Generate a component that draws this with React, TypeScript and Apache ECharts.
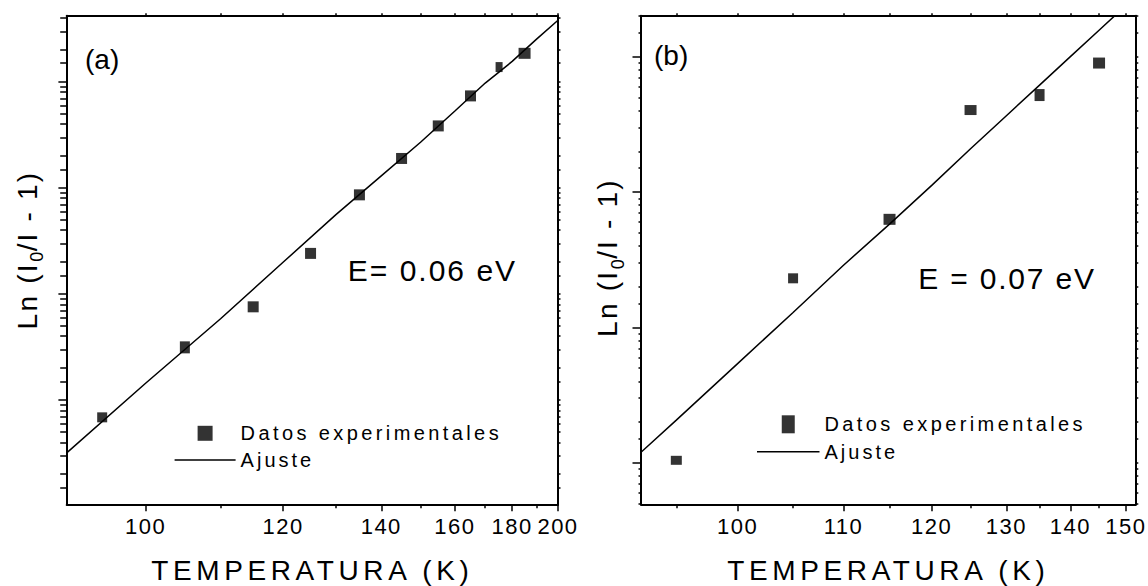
import React, { useEffect, useRef } from 'react';
import * as echarts from 'echarts';

// ---------- Panel (a) data ----------
const TEMP_A = [95, 105, 115, 125, 135, 145, 155, 165, 175, 185];
const VALUE_A = [0.00687, 0.0314, 0.0757, 0.2415, 0.861, 1.897, 3.846, 7.38, 13.8, 18.6];
const FIT_TEMP_A = [91.3, 100, 110, 120, 130, 140, 150, 160, 170, 180, 190, 200];
const FIT_VALUE_A = [0.00319, 0.01439, 0.0585, 0.1991, 0.56, 1.301, 2.7, 5.316, 9.75, 15.6, 25.19, 38.14];
const TICKS_A = [100, 120, 140, 160, 180, 200];
const MINOR_TICKS_A = [110, 130, 150, 170, 190];

// ---------- Panel (b) data ----------
const TEMP_B = [95, 105, 115, 125, 135, 145];
const VALUE_B = [0.01042, 0.2305, 0.6289, 4.037, 5.21, 8.98];
const FIT_TEMP_B = [92.3, 95, 100, 105, 110, 115, 120, 125, 130, 135, 140, 145, 150];
const FIT_VALUE_B = [0.01184, 0.02064, 0.054, 0.1289, 0.288, 0.58, 1.12, 2.089, 3.666, 6.171, 10.01, 15.7, 23.9];
const TICKS_B = [100, 110, 120, 130, 140, 150];
const MINOR_TICKS_B = [95, 105, 115, 125, 135, 145];

// axis ranges (temperature K, and y quantity on log scale)
const RANGE_T_A = [91.27, 200];
const RANGE_T_B = [92.34, 151.95];
const RANGE_Y_A = [0.00104, 42.1];
const RANGE_Y_B = [0.00493, 20.1];
const DECADES = [0.001, 0.01, 0.1, 1, 10];
const MINOR_FACTORS = [1.5, 2, 3, 4, 5, 6, 7, 8, 9];

const SERIES_DATA = 'Datos experimentales';
const SERIES_FIT = 'Ajuste';

// marker sizes (style)
const MARKERS_A = [[10, 10], [10, 12], [11, 11], [11, 11], [11, 11], [11, 11], [11, 11], [11, 11], [7, 10], [12, 11]];
const MARKERS_B = [[11, 9], [10, 10], [12, 11], [12, 10], [10, 12], [12, 11]];

const FONT = "'Liberation Sans', Arial, Helvetica, sans-serif";
const BLACK = '#000';

const YLABEL_SPACING = 2.2;
const SPACING: Record<string, number> = {
  'TEMPERATURA (K)': 4.6,
  'Datos experimentales': 3.4,
  'Ajuste': 3,
  'E= 0.06 eV': 2,
  'E = 0.07 eV': 1.8,
  'Ln (I': YLABEL_SPACING,
  '/I - 1)': YLABEL_SPACING,
};
const TICK_SPACING = 1.5;

const inv = (t: number) => 1000 / t;
const lg = (v: number) => Math.log10(v);

function logTicks(range: number[]) {
  const lo = lg(range[0]);
  const hi = lg(range[1]);
  const major: number[] = [];
  const minor: number[] = [];
  DECADES.forEach((d) => {
    const m = lg(d);
    if (m >= lo && m <= hi) major.push(m);
    MINOR_FACTORS.forEach((f) => {
      const v = lg(d * f);
      if (v >= lo && v <= hi) minor.push(v);
    });
  });
  return { major, minor };
}

const PANELS = [
  {
    grid: { left: 66.7, top: 15.7, width: 491.3, height: 488.6 },
    tRange: RANGE_T_A, yRange: RANGE_Y_A,
    ticks: TICKS_A, minorTicks: MINOR_TICKS_A,
    temp: TEMP_A, value: VALUE_A, fitT: FIT_TEMP_A, fitV: FIT_VALUE_A,
    markers: MARKERS_A,
    yMajorLen: 8.3, yMinorLen: 6.5, yNameGap: 20.7, yNameShift: 20,
    legend: { left: 174.6, top: 423.3, itemWidth: 61, itemHeight: 15, itemGap: 6.7, icon: 'path://M0,0H15V15H0Z' },
    tag: '(a)', tagPos: [85, 59],
    energy: 'E= 0.06 eV', energyPos: [347.8, 270],
  },
  {
    grid: { left: 641, top: 15.7, width: 494.8, height: 488.6 },
    tRange: RANGE_T_B, yRange: RANGE_Y_B,
    ticks: TICKS_B, minorTicks: MINOR_TICKS_B,
    temp: TEMP_B, value: VALUE_B, fitT: FIT_TEMP_B, fitV: FIT_VALUE_B,
    markers: MARKERS_B,
    yMajorLen: 8.5, yMinorLen: 2.5, yNameGap: 14.3, yNameShift: 5,
    legend: { left: 757, top: 414.3, itemWidth: 62.5, itemHeight: 18, itemGap: 7.4, icon: 'path://M0,0H13V18H0Z' },
    tag: '(b)', tagPos: [654, 55],
    energy: 'E = 0.07 eV', energyPos: [918.3, 278.3],
  },
];

function buildOption() {
  const grid: any[] = [];
  const xAxis: any[] = [];
  const yAxis: any[] = [];
  const series: any[] = [];
  const legend: any[] = [];
  const graphic: any[] = [];

  const hidden = {
    type: 'value',
    splitLine: { show: false },
    axisLabel: { show: false },
    axisTick: { show: false },
    axisLine: { show: false, onZero: false },
  };
  const lineStyle = { color: BLACK, width: 2 };
  const tickStyle = { color: BLACK, width: 1.5 };
  const padA = ('Ln (I'.length * YLABEL_SPACING) / 2;
  const padB = ('/I - 1)'.length * YLABEL_SPACING) / 2;

  PANELS.forEach((p, gi) => {
    grid.push({ ...p.grid, containLabel: false, outerBoundsMode: 'none' });
    const xMin = inv(p.tRange[1]);
    const xMax = inv(p.tRange[0]);
    const majorX = p.ticks.map(inv);
    const minorX = p.minorTicks.map(inv);
    const xCommon = { ...hidden, gridIndex: gi, inverse: true, min: xMin, max: xMax };
    xAxis.push({
      ...xCommon,
      position: 'bottom',
      axisLine: { show: true, onZero: false, lineStyle },
      axisTick: { show: true, customValues: majorX, length: 7, lineStyle: tickStyle },
      axisLabel: {
        show: true,
        customValues: majorX,
        formatter: (v: number) => String(Math.round(1000 / v)),
        color: BLACK,
        fontSize: 22,
        fontFamily: FONT,
        margin: 11,
      },
      name: 'TEMPERATURA (K)',
      nameLocation: 'middle',
      nameGap: 51.7,
      nameTextStyle: { fontSize: 28, color: BLACK, fontFamily: FONT },
    });
    xAxis.push({
      ...xCommon,
      position: 'bottom',
      axisTick: { show: true, customValues: minorX, length: 4, lineStyle: tickStyle },
    });
    xAxis.push({
      ...xCommon,
      position: 'top',
      axisLine: { show: true, onZero: false, lineStyle },
      axisTick: { show: true, customValues: majorX.concat(minorX), length: 2.5, lineStyle: tickStyle },
    });

    const yt = logTicks(p.yRange);
    const yCommon = { ...hidden, gridIndex: gi, min: lg(p.yRange[0]), max: lg(p.yRange[1]) };
    yAxis.push({
      ...yCommon,
      position: 'left',
      axisLine: { show: true, onZero: false, lineStyle },
      axisTick: { show: true, customValues: yt.major, length: p.yMajorLen, lineStyle: tickStyle },
      name: '{a|Ln (I}{s|0}{b|/I - 1)}',
      nameLocation: 'middle',
      nameGap: p.yNameGap,
      nameTextStyle: {
        color: BLACK,
        fontFamily: FONT,
        padding: [0, 0, 0, p.yNameShift],
        rich: {
          a: { fontSize: 28, lineHeight: 38, fontFamily: FONT, color: BLACK, verticalAlign: 'middle', padding: [0, padA, 0, padA] },
          s: { fontSize: 18, lineHeight: 18, fontFamily: FONT, color: BLACK, verticalAlign: 'bottom', padding: [0, 0.5, 0, 0.5] },
          b: { fontSize: 28, lineHeight: 38, fontFamily: FONT, color: BLACK, verticalAlign: 'middle', padding: [0, padB, 0, padB] },
        },
      },
    });
    yAxis.push({
      ...yCommon,
      position: 'left',
      axisTick: { show: true, customValues: yt.minor, length: p.yMinorLen, lineStyle: tickStyle },
    });
    yAxis.push({
      ...yCommon,
      position: 'right',
      axisLine: { show: true, onZero: false, lineStyle },
      axisTick: { show: true, customValues: yt.major.concat(yt.minor), length: 2.5, lineStyle: tickStyle },
    });

    const axisIndex = gi * 3;
    series.push({
      type: 'scatter',
      name: SERIES_DATA,
      xAxisIndex: axisIndex,
      yAxisIndex: axisIndex,
      data: p.temp.map((t, i) => [inv(t), lg(p.value[i])]),
      symbol: 'rect',
      symbolSize: (_v: any, params: any) => p.markers[params.dataIndex],
      itemStyle: { color: BLACK },
      z: 4,
    });
    series.push({
      type: 'line',
      name: SERIES_FIT,
      xAxisIndex: axisIndex,
      yAxisIndex: axisIndex,
      data: p.fitT.map((t, i) => [inv(t), lg(p.fitV[i])]),
      symbol: 'none',
      showSymbol: false,
      clip: true,
      lineStyle: { color: BLACK, width: 1.5 },
      itemStyle: { color: BLACK },
      z: 3,
    });

    legend.push({
      orient: 'vertical',
      left: p.legend.left,
      top: p.legend.top,
      padding: 0,
      itemWidth: p.legend.itemWidth,
      itemHeight: p.legend.itemHeight,
      itemGap: p.legend.itemGap,
      symbolKeepAspect: true,
      selectedMode: false,
      textStyle: { fontSize: 20, lineHeight: 20, color: BLACK, fontFamily: FONT },
      data: [
        { name: SERIES_DATA, icon: p.legend.icon, itemStyle: { color: BLACK } },
        { name: SERIES_FIT, icon: 'path://M0,0H60V1.5H0Z', itemStyle: { color: BLACK } },
      ],
    });

    graphic.push({
      type: 'text',
      x: p.tagPos[0],
      y: p.tagPos[1],
      silent: true,
      style: {
        text: p.tag, fill: BLACK, fontSize: 28, fontFamily: FONT,
        align: 'left', verticalAlign: 'middle', textAlign: 'left', textVerticalAlign: 'middle',
      },
    });
    graphic.push({
      type: 'text',
      x: p.energyPos[0],
      y: p.energyPos[1],
      silent: true,
      style: {
        text: p.energy, fill: BLACK, fontSize: 30, fontFamily: FONT,
        align: 'left', verticalAlign: 'middle', textAlign: 'left', textVerticalAlign: 'middle',
      },
    });
  });

  return {
    animation: false,
    backgroundColor: '#fff',
    grid,
    xAxis,
    yAxis,
    series,
    legend,
    graphic,
  };
}

export default function App() {
  const ref = useRef<HTMLDivElement>(null);
  useEffect(() => {
    const el = ref.current as HTMLDivElement;
    const chart = echarts.init(el, null, { renderer: 'svg' });
    const applySpacing = () => {
      el.querySelectorAll('text').forEach((t) => {
        const s = t.textContent || '';
        let ls = SPACING[s];
        if (ls === undefined && /^\d{2,3}$/.test(s)) ls = TICK_SPACING;
        if (ls) t.setAttribute('letter-spacing', String(ls));
      });
    };
    chart.on('finished', applySpacing);
    chart.setOption(buildOption() as any);
    applySpacing();
    return () => {
      chart.dispose();
    };
  }, []);
  return (
    <div
      ref={ref}
      style={{ position: 'fixed', left: 0, top: 0, width: 1148, height: 586, background: '#fff' }}
    />
  );
}
